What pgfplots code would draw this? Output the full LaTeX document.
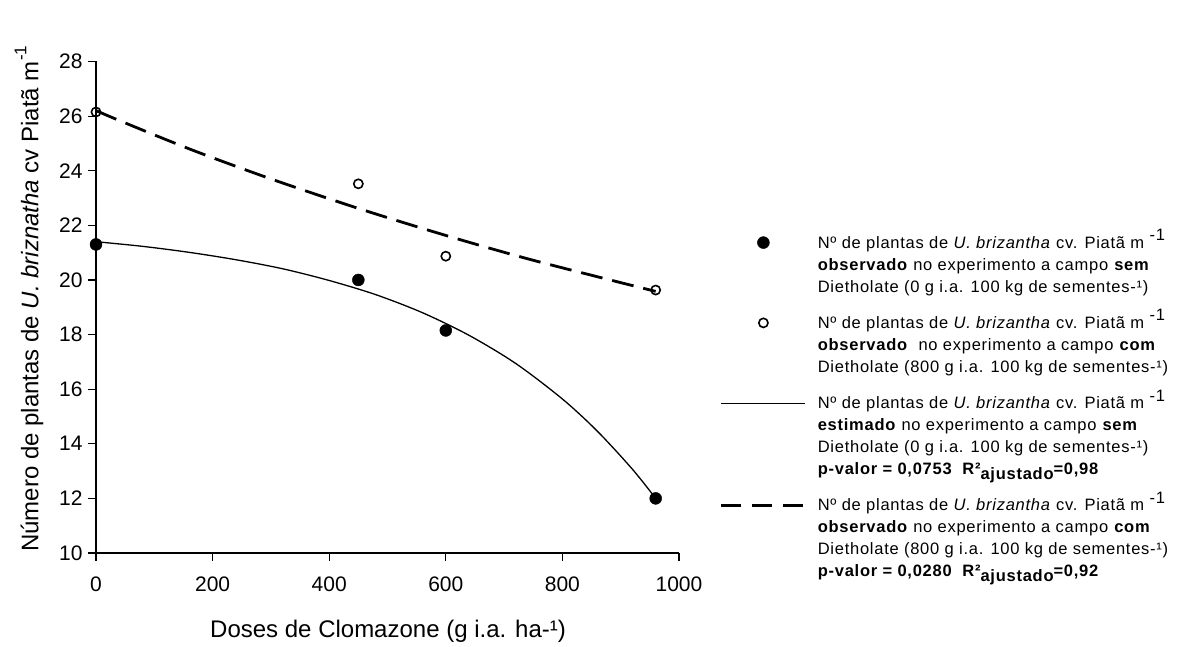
\documentclass[border=0pt]{standalone}
\usepackage{pgfplots}
\pgfplotsset{compat=1.18}
\usepackage{fontspec}
\setmainfont{Liberation Sans}
\begin{document}
\begin{tikzpicture}
\begin{axis}[
  scale only axis,
  width=583pt, height=491.5pt,
  xmin=0, xmax=1000, ymin=10, ymax=28,
  axis x line=bottom, axis y line=left,
  axis line style={-, line width=1.2pt},
  xtick={0,200,...,1000}, ytick={10,12,...,28},
  tick align=outside, major tick length=8pt,
  tick style={black, line width=1.2pt},
  /pgf/number format/assume math mode=true,
  /pgf/number format/set thousands separator={},
  ticklabel style={font=\fontsize{21}{25}\selectfont},
  xticklabel style={yshift=-12pt},
  yticklabel style={xshift=-2pt},
  xlabel={Doses de Clomazone (g i.a. ha-¹)},
  ylabel={Número de plantas de \textit{U. briznatha} cv Piatã m\raisebox{0.5em}{\fontsize{17}{17}\selectfont -1}},
  label style={font=\fontsize{24}{28}\selectfont},
  xlabel style={at={(axis description cs:0.501,-0.159)}, anchor=center},
  ylabel style={at={(axis description cs:-0.115,0.517)}, anchor=center, rotate=0},
  clip=false,
  legend style={at={(1.07,0.663)}, anchor=north west, draw=none, fill=none, inner sep=0pt,
    font=\fontsize{16.5}{22}\selectfont\addfontfeatures{LetterSpace=4.5}, row sep=12pt,
    cells={anchor=base west, align=left},
    /tikz/every odd column/.append style={column sep=9pt}},
]
\addlegendimage{legend image code/.code={\draw[black] plot[only marks, mark=*, mark size=6pt] coordinates {(42pt,49.5pt)};}}
\addlegendentry{Nº de plantas de \textit{U. brizantha} cv. Piatã m \raisebox{0.45em}{-1}\\\textbf{observado} no experimento a campo \textbf{sem}\\Dietholate (0 g i.a. 100 kg de sementes-¹)}
\addlegendimage{legend image code/.code={\draw[black, line width=1.6pt] plot[only marks, mark=o, mark size=4.6pt, mark options={fill=white}] coordinates {(42pt,49.5pt)};}}
\addlegendentry{Nº de plantas de \textit{U. brizantha} cv. Piatã m \raisebox{0.45em}{-1}\\\textbf{observado}\ \ no experimento a campo \textbf{com}\\Dietholate (800 g i.a. 100 kg de sementes-¹)}
\addlegendimage{legend image code/.code={\draw[black, line width=1.3pt] (0pt,71.5pt) -- (84pt,71.5pt);}}
\addlegendentry{Nº de plantas de \textit{U. brizantha} cv. Piatã m \raisebox{0.45em}{-1}\\\textbf{estimado} no experimento a campo \textbf{sem}\\Dietholate (0 g i.a. 100 kg de sementes-¹)\\\textbf{p-valor = 0,0753 \ R²\raisebox{-0.3em}{ajustado}=0,98}}
\addlegendimage{legend image code/.code={\draw[black, line width=2.8pt, dash pattern=on 20pt off 11pt] (0pt,71.5pt) -- (84pt,71.5pt);}}
\addlegendentry{Nº de plantas de \textit{U. brizantha} cv. Piatã m \raisebox{0.45em}{-1}\\\textbf{observado} no experimento a campo \textbf{com}\\Dietholate (800 g i.a. 100 kg de sementes-¹)\\\textbf{p-valor = 0,0280 \ R²\raisebox{-0.3em}{ajustado}=0,92}}

% fitted curves
\addplot[forget plot, black, line width=1.3pt, smooth] coordinates {
(0,21.40) (80,21.23) (160,21.01) (240,20.74) (320,20.41) (400,19.98) (480,19.46)
(560,18.80) (640,17.97) (720,16.94) (800,15.64) (860,14.46) (920,13.07) (960,12.0)};
\addplot[forget plot, black, line width=2.8pt, dash pattern=on 22pt off 10pt, smooth] coordinates {
(0,26.2) (50,25.75) (166,24.75) (300,23.7) (450,22.62) (600,21.63) (750,20.72) (960,19.58)};
% observed
\addplot[forget plot, only marks, mark=*, mark size=6pt, black] coordinates {
(0,21.3) (450,20.0) (600,18.15) (960,12.0)};
\addplot[forget plot, only marks, mark=o, mark size=4.6pt, line width=1.6pt, black, mark options={fill=white}] coordinates {
(0,26.15) (450,23.52) (600,20.87) (960,19.63)};
\end{axis}
\pgfresetboundingbox
\path[use as bounding box] (-96pt,-94pt) rectangle (1091pt,553pt);
\end{tikzpicture}
\end{document}
